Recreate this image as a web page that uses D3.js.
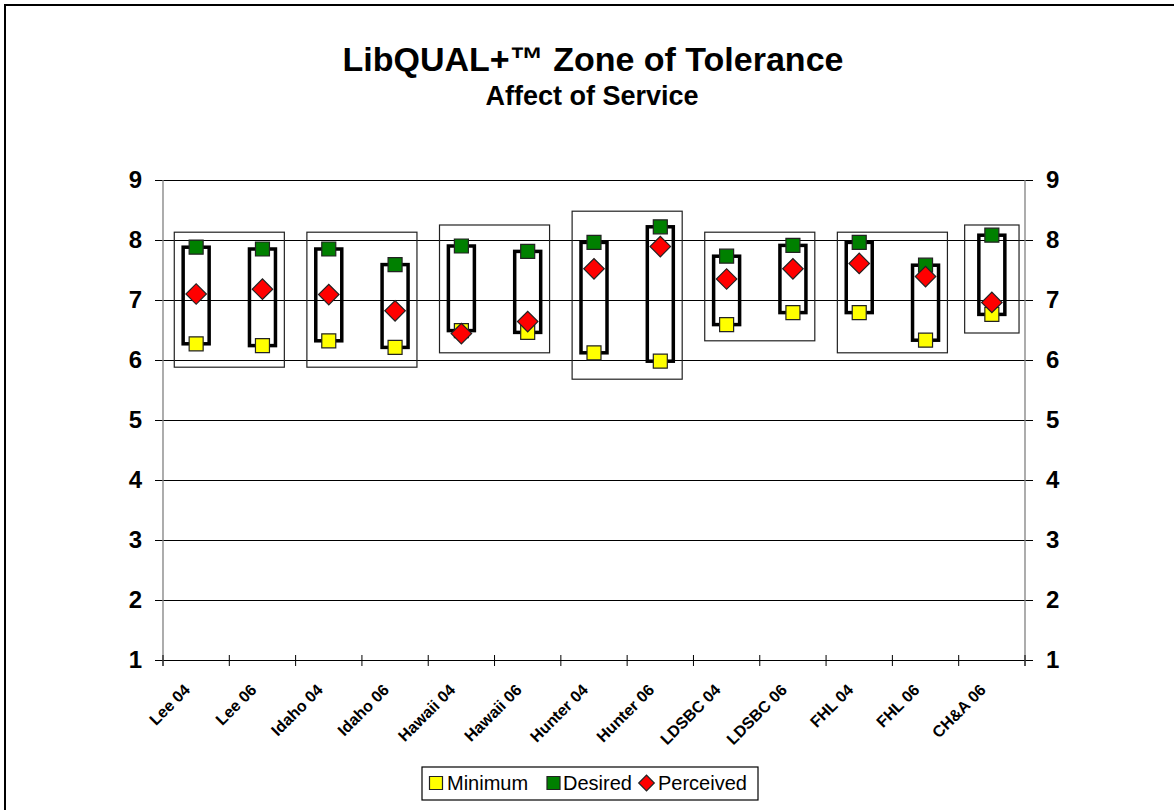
<!DOCTYPE html>
<html>
<head>
<meta charset="utf-8">
<script src="https://cdn.jsdelivr.net/npm/d3@7"></script>
<style>
  body { margin: 0; background: #fff; }
  svg { display: block; font-family: "Liberation Sans", Arial, sans-serif; }
</style>
</head>
<body>
<svg id="chart" width="1174" height="810"></svg>
<script>
// data
const categories = ['Lee 04', 'Lee 06', 'Idaho 04', 'Idaho 06', 'Hawaii 04', 'Hawaii 06',
	'Hunter 04', 'Hunter 06', 'LDSBC 04', 'LDSBC 06', 'FHL 04', 'FHL 06', 'CH&A 06'];
const minimum = [6.27, 6.24, 6.32, 6.21, 6.49, 6.46, 6.12, 5.98, 6.59, 6.79, 6.79, 6.33, 6.76];
const desired = [7.88, 7.85, 7.85, 7.59, 7.90, 7.81, 7.96, 8.22, 7.73, 7.91, 7.96, 7.58, 8.08];
const perceived = [7.10, 7.18, 7.09, 6.82, 6.44, 6.64, 7.52, 7.89, 7.35, 7.52, 7.61, 7.39, 6.96];

// library boxes (first / last category, top / bottom value)
const groupFirst = ['Lee 04', 'Idaho 04', 'Hawaii 04', 'Hunter 04', 'LDSBC 04', 'FHL 04', 'CH&A 06'];
const groupLast = ['Lee 06', 'Idaho 06', 'Hawaii 06', 'Hunter 06', 'LDSBC 06', 'FHL 06', 'CH&A 06'];
const groupTop = [8.13, 8.13, 8.25, 8.48, 8.13, 8.13, 8.25];
const groupBottom = [5.88, 5.88, 6.12, 5.68, 6.32, 6.12, 6.45];

const yTicks = [1, 2, 3, 4, 5, 6, 7, 8, 9];

const svg = d3.select('#chart');

// outer frame (right/bottom edges fall outside the picture)
svg.append('rect')
	.attr('x', 5).attr('y', 5)
	.attr('width', 1200).attr('height', 900)
	.attr('fill', 'none')
	.attr('stroke', '#000')
	.attr('stroke-width', 2);

// titles
svg.append('text')
	.attr('x', 593).attr('y', 71)
	.attr('text-anchor', 'middle')
	.attr('font-size', 34).attr('font-weight', 'bold')
	.text('LibQUAL+™ Zone of Tolerance');
svg.append('text')
	.attr('x', 592).attr('y', 105)
	.attr('text-anchor', 'middle')
	.attr('font-size', 27).attr('font-weight', 'bold')
	.text('Affect of Service');

const plotLeft = 163, plotRight = 1025, plotTop = 180, plotBottom = 660;

const x = d3.scaleBand().domain(categories).range([plotLeft, plotRight]);
const y = d3.scaleLinear().domain([1, 9]).range([plotBottom, plotTop]);
const bw = x.bandwidth();
const cx = c => x(c) + bw / 2;

// gridlines + outer ticks
svg.append('g')
	.selectAll('line')
	.data(yTicks)
	.join('line')
	.attr('x1', plotLeft - 8).attr('x2', plotRight + 8)
	.attr('y1', d => y(d)).attr('y2', d => y(d))
	.attr('stroke', '#000')
	.attr('stroke-width', 1)
	.attr('shape-rendering', 'crispEdges');

// vertical axes (grey)
[plotLeft, plotRight].forEach(px => {
	svg.append('line')
		.attr('x1', px).attr('x2', px)
		.attr('y1', plotTop).attr('y2', plotBottom + 6)
		.attr('stroke', '#808080')
		.attr('stroke-width', 1.3);
});

// y labels both sides
const yAxisL = d3.axisLeft(y).tickValues(yTicks).tickSize(0).tickPadding(21).tickFormat(d3.format('d'));
const yAxisR = d3.axisRight(y).tickValues(yTicks).tickSize(0).tickPadding(21).tickFormat(d3.format('d'));
const gl = svg.append('g').attr('transform', `translate(${plotLeft},0)`).call(yAxisL);
const gr = svg.append('g').attr('transform', `translate(${plotRight},0)`).call(yAxisR);
[gl, gr].forEach(g => {
	g.select('.domain').remove();
	g.selectAll('text')
		.attr('font-size', 24)
		.attr('font-weight', 'bold')
		.attr('font-family', '"Liberation Sans", Arial, sans-serif')
		.attr('fill', '#000');
});

// x ticks at category boundaries
const bounds = categories.map(c => x(c)).concat([plotRight]);
svg.append('g')
	.selectAll('line')
	.data(bounds)
	.join('line')
	.attr('x1', d => d).attr('x2', d => d)
	.attr('y1', plotBottom - 5).attr('y2', plotBottom + 6)
	.attr('stroke', '#000')
	.attr('stroke-width', 1);

// x labels
const xAxis = d3.axisBottom(x).tickSize(0);
const gx = svg.append('g').attr('transform', `translate(0,${plotBottom})`).call(xAxis);
gx.select('.domain').remove();
gx.selectAll('text')
	.attr('font-size', 16)
	.attr('font-weight', 'bold')
	.attr('font-family', '"Liberation Sans", Arial, sans-serif')
	.attr('fill', '#000')
	.attr('text-anchor', 'end')
	.attr('y', 0).attr('dy', 0)
	.attr('transform', 'translate(-5,31) rotate(-45)');

// library group boxes
const groups = groupFirst.map((f, i) => ({
	first: f, last: groupLast[i], top: groupTop[i], bottom: groupBottom[i],
}));
svg.append('g')
	.selectAll('rect')
	.data(groups)
	.join('rect')
	.attr('x', d => cx(d.first) - (d.first === d.last ? 0.41 : 0.33) * bw)
	.attr('width', d => cx(d.last) - cx(d.first) + 2 * (d.first === d.last ? 0.41 : 0.33) * bw)
	.attr('y', d => y(d.top))
	.attr('height', d => y(d.bottom) - y(d.top))
	.attr('fill', 'none')
	.attr('stroke', '#222')
	.attr('stroke-width', 1.2);

// zone of tolerance bars
const rows = categories.map((c, i) => ({
	cat: c, min: minimum[i], des: desired[i], per: perceived[i],
}));
svg.append('g')
	.selectAll('rect')
	.data(rows)
	.join('rect')
	.attr('x', d => cx(d.cat) - 13)
	.attr('width', 26)
	.attr('y', d => y(d.des))
	.attr('height', d => y(d.min) - y(d.des))
	.attr('fill', 'none')
	.attr('stroke', '#000')
	.attr('stroke-width', 3.5);

const square = d3.symbol().type(d3.symbolSquare).size(14 * 14);
const diamond = d3.symbol().type(d3.symbolSquare).size(14.5 * 14.5);

function markers(key, fill, shape, rot) {
	svg.append('g')
		.selectAll('path')
		.data(rows)
		.join('path')
		.attr('d', shape)
		.attr('transform', d => `translate(${cx(d.cat)},${y(d[key])}) rotate(${rot})`)
		.attr('fill', fill)
		.attr('stroke', '#222')
		.attr('stroke-width', 1.2);
}
markers('min', '#ffff00', square, 0);
markers('des', '#008000', square, 0);
markers('per', '#ff0000', diamond, 45);

// legend
const legendSquare = d3.symbol().type(d3.symbolSquare).size(13 * 13);
const legendDiamond = d3.symbol().type(d3.symbolSquare).size(11 * 11);
const lg = svg.append('g');
lg.append('rect')
	.attr('x', 422).attr('y', 767)
	.attr('width', 336).attr('height', 33)
	.attr('fill', '#fff')
	.attr('stroke', '#000')
	.attr('stroke-width', 1.2);
const legendItems = [
	{ label: 'Minimum', fill: '#ffff00', shape: legendSquare, rot: 0, sx: 436, tx: 447 },
	{ label: 'Desired', fill: '#008000', shape: legendSquare, rot: 0, sx: 553.5, tx: 563 },
	{ label: 'Perceived', fill: '#ff0000', shape: legendDiamond, rot: 45, sx: 646.5, tx: 658 },
];
legendItems.forEach(it => {
	lg.append('path')
		.attr('d', it.shape)
		.attr('transform', `translate(${it.sx},783) rotate(${it.rot})`)
		.attr('fill', it.fill)
		.attr('stroke', '#222')
		.attr('stroke-width', 1.2);
	lg.append('text')
		.attr('x', it.tx).attr('y', 790)
		.attr('font-size', 20)
		.text(it.label);
});
</script>
</body>
</html>
